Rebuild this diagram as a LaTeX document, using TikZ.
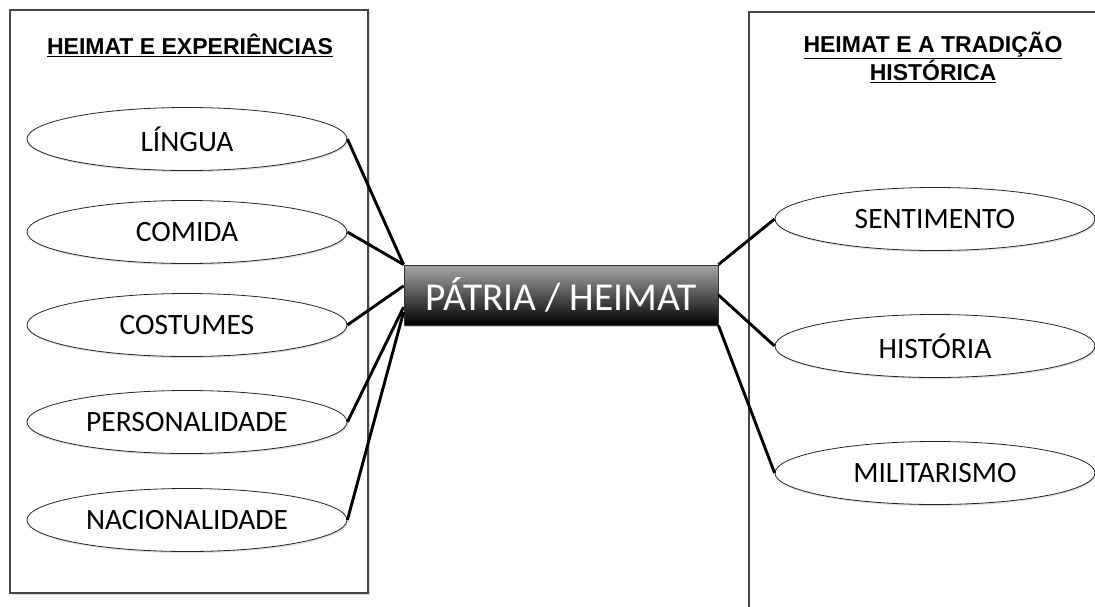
\documentclass[tikz,border=0pt]{standalone}
\usepackage{fontspec}
\setmainfont{Carlito}
\newfontfamily\titlefont{Liberation Sans}
\usetikzlibrary{shapes.geometric,shadows,calc}
\begin{document}
\begin{tikzpicture}[x=1pt,y=-1pt,
  panel/.style={rectangle, draw=black!72, line width=1.3pt, fill=white, inner sep=0pt,
    drop shadow={shadow xshift=1.5pt, shadow yshift=-1.5pt, opacity=0.3}},
  topic/.style={ellipse, draw=black!85, line width=0.8pt, fill=white, inner sep=0pt,
    minimum width=320pt, minimum height=63pt, font=\fontsize{29.5}{31}\selectfont,
    drop shadow={shadow xshift=0.8pt, shadow yshift=-1.6pt, opacity=0.25}},
  hub/.style={rectangle, draw=black!80, line width=0.8pt, inner sep=0pt,
    top color=black!35, bottom color=black, text=white,
    minimum width=314pt, minimum height=60pt, font=\fontsize{39.5}{41}\selectfont,
    drop shadow={shadow xshift=0.8pt, shadow yshift=-2pt, opacity=0.35}},
  title/.style={font=\titlefont\bfseries\fontsize{23}{24.5}\selectfont, align=center, inner sep=0pt},
  link/.style={line width=2.9pt, black}
]
\clip (0,0) rectangle (1095,606);
\fill[white] (0,0) rectangle (1095,606);

% panels
\node[panel, minimum width=358pt, minimum height=583pt] (lbox) at (189,301.5) {};
\node[panel, minimum width=368pt, minimum height=620pt] (rbox) at (933,322) {};

% titles
\node[title] (ltitle) at (190,45) {\underline{HEIMAT E EXPERIÊNCIAS}};
\node[title] (rtitle) at (933,57) {\underline{HEIMAT E A TRADIÇÃO}\\\underline{HISTÓRICA}};

% hub
\node[hub] (hub) at (561,295) {PÁTRIA / HEIMAT};

% left topics
\node[topic] (lingua) at (187,139) {LÍNGUA};
\node[topic] (comida) at (187,232) {COMIDA};
\node[topic] (costumes) at (187,325) {COSTUMES};
\node[topic] (person) at (187,422) {PERSONALIDADE};
\node[topic] (nacion) at (187,520) {NACIONALIDADE};

% right topics
\node[topic] (sent) at (935,219) {SENTIMENTO};
\node[topic] (hist) at (935,346) {HISTÓRIA};
\node[topic] (milit) at (935,473) {MILITARISMO};

% attachment points on the hub
\coordinate (hA) at ($(hub.south west)!0.65!(hub.north west)$);
\coordinate (hB) at ($(hub.south west)!0.30!(hub.north west)$);
\coordinate (hC) at ($(hub.south west)!0.22!(hub.north west)$);

% connectors
\draw[link] (lingua.east) -- (hub.north west);
\draw[link] (comida.east) -- (hub.north west);
\draw[link] (costumes.east) -- (hA);
\draw[link] (person.east) -- (hB);
\draw[link] (nacion.east) -- (hC);
\draw[link] (sent.west) -- (hub.north east);
\draw[link] (hist.west) -- (hub.east);
\draw[link] (milit.west) -- (hub.south east);
\end{tikzpicture}
\end{document}
